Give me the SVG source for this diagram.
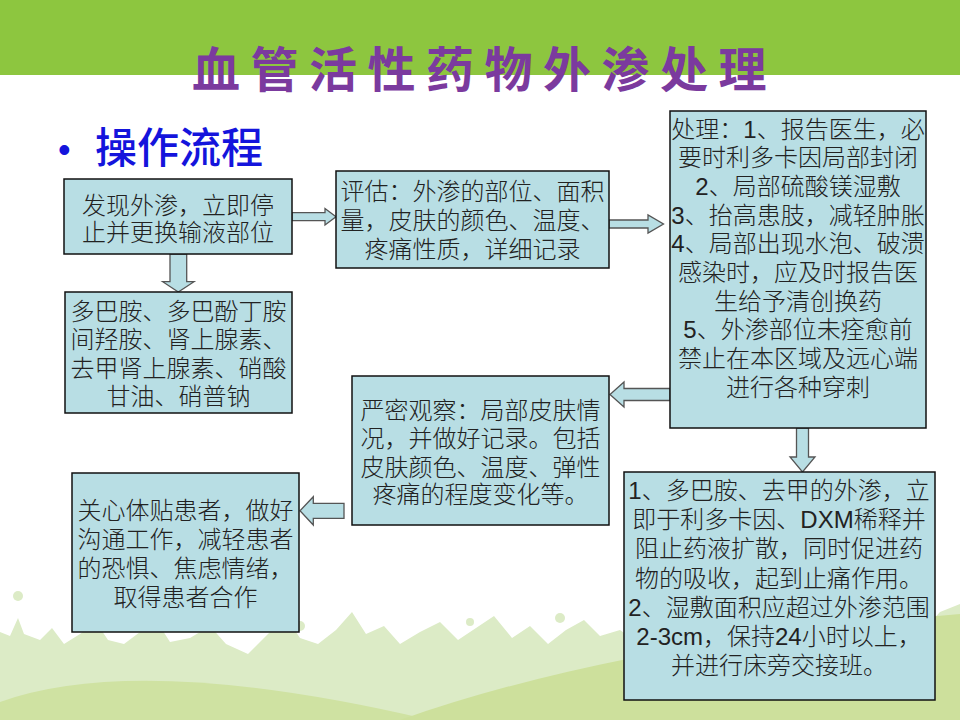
<svg xmlns="http://www.w3.org/2000/svg" width="960" height="720" viewBox="0 0 960 720">
<style>
.box{fill:#B8DEE4;stroke:#111;stroke-width:1.5}
.t{font-family:"Liberation Sans","Noto Sans CJK SC",sans-serif;font-size:24px;font-weight:300;fill:#222;text-anchor:middle}
.arr{fill:#B8DEE4;stroke:#555;stroke-width:1.3;stroke-linejoin:miter}
.deco{fill:#DCEBC6}
</style>
<g id="background">
<rect x="0" y="0" width="960" height="720" fill="#FFFFFF"/>
<rect x="0" y="0" width="960" height="75" fill="#8DC63F"/>
<path d="M0,655 L0,632 L10,636 L18,618 L24,634 L40,640 L52,628 L64,644 L80,634 L96,622 L108,640 L124,644 L140,632 L156,620 L170,642 L190,638 L210,626 L226,644 L248,654 L270,632 L288,620 L300,638 L318,644 L336,630 L352,612 L366,634 L384,626 L400,644 L420,632 L440,622 L458,640 L476,628 L494,616 L512,638 L530,626 L548,644 L566,630 L584,620 L600,636 L620,630 L640,644 L660,622 L680,636 L700,630 L720,644 L740,624 L760,638 L780,620 L800,634 L820,628 L840,644 L860,624 L880,636 L900,616 L920,634 L940,612 L960,604 L960,720 L0,720 Z" class="deco"/>
<path d="M0,702 Q140,652 430,720 L0,720 Z" fill="#CFE2A2"/>
<path d="M400,720 Q620,642 960,614 L960,720 Z" fill="#CDE09C"/>
<circle cx="18" cy="596" r="5" class="deco"/>
<circle cx="300" cy="626" r="5" class="deco"/>
<circle cx="470" cy="622" r="4" class="deco"/>
<circle cx="560" cy="618" r="5" class="deco"/>
<circle cx="908" cy="592" r="5" class="deco"/>
</g>
<g id="title">
<text x="192" y="87" font-family="'Noto Sans CJK SC',sans-serif" font-size="48" font-weight="700" fill="#7B3A9E" letter-spacing="10.5">血管活性药物外渗处理</text>
</g>
<g id="subtitle">
<text x="58" y="162" font-family="'Liberation Sans',sans-serif" font-size="36" fill="#1414DC">•</text>
<text x="95" y="163" font-family="'Noto Sans CJK SC',sans-serif" font-size="42" font-weight="500" fill="#1414DC">操作流程</text>
</g>
<g id="connectors">
<polygon class="arr" points="292,212.7 325,212.7 325,208.5 336,216.7 325,225 325,220.7 292,220.7"/>
<polygon class="arr" points="170,254 186.7,254 186.7,281.7 194,281.7 178.3,292 162.7,281.7 170,281.7"/>
<polygon class="arr" points="609,220 648,220 648,215 663.5,224 648,233 648,228 609,228"/>
<polygon class="arr" points="670,388.5 624,388.5 624,382 610,394.5 624,407 624,400.5 670,400.5"/>
<polygon class="arr" points="344,503.3 313.3,503.3 313.3,496.7 300,510.8 313.3,525 313.3,518.3 344,518.3"/>
<polygon class="arr" points="796.5,428 808.5,428 808.5,457 815,457 802.5,472 790,457 796.5,457"/>
</g>
<g id="node-discover">
<rect class="box" x="64" y="179" width="228" height="75"/>
<text class="t" x="178" y="214">发现外渗，立即停</text>
<text class="t" x="178" y="241">止并更换输液部位</text>
</g>
<g id="node-assess">
<rect class="box" x="336" y="171" width="273" height="97"/>
<text class="t" x="472.5" y="200">评估：外渗的部位、面积</text>
<text class="t" x="472.5" y="229">量，皮肤的颜色、温度、</text>
<text class="t" x="472.5" y="258">疼痛性质，详细记录</text>
</g>
<g id="node-drugs">
<rect class="box" x="65" y="292" width="227" height="121"/>
<text class="t" x="178.5" y="320">多巴胺、多巴酚丁胺</text>
<text class="t" x="178.5" y="348">间羟胺、肾上腺素、</text>
<text class="t" x="178.5" y="377">去甲肾上腺素、硝酸</text>
<text class="t" x="178.5" y="405">甘油、硝普钠</text>
</g>
<g id="node-treat">
<rect class="box" x="670" y="111" width="256" height="317"/>
<text class="t" x="798" y="137.5">处理：1、报告医生，必</text>
<text class="t" x="798" y="166.2">要时利多卡因局部封闭</text>
<text class="t" x="798" y="194.9">2、局部硫酸镁湿敷</text>
<text class="t" x="798" y="223.6">3、抬高患肢，减轻肿胀</text>
<text class="t" x="798" y="252.3">4、局部出现水泡、破溃</text>
<text class="t" x="798" y="281">感染时，应及时报告医</text>
<text class="t" x="798" y="309.7">生给予清创换药</text>
<text class="t" x="798" y="338.4">5、外渗部位未痊愈前</text>
<text class="t" x="798" y="367.1">禁止在本区域及远心端</text>
<text class="t" x="798" y="395.8">进行各种穿刺</text>
</g>
<g id="node-observe">
<rect class="box" x="352" y="376" width="257" height="149"/>
<text class="t" x="480.5" y="419">严密观察：局部皮肤情</text>
<text class="t" x="480.5" y="447">况，并做好记录。包括</text>
<text class="t" x="480.5" y="476">皮肤颜色、温度、弹性</text>
<text class="t" x="480.5" y="503">疼痛的程度变化等。</text>
</g>
<g id="node-care">
<rect class="box" x="72" y="473" width="227" height="159"/>
<text class="t" x="185.5" y="519">关心体贴患者，做好</text>
<text class="t" x="185.5" y="548">沟通工作，减轻患者</text>
<text class="t" x="185.5" y="577">的恐惧、焦虑情绪，</text>
<text class="t" x="185.5" y="606">取得患者合作</text>
</g>
<g id="node-notes">
<rect class="box" x="624" y="472" width="311" height="228"/>
<text class="t" x="779" y="499">1、多巴胺、去甲的外渗，立</text>
<text class="t" x="779" y="528.2">即于利多卡因、DXM稀释并</text>
<text class="t" x="779" y="557.4">阻止药液扩散，同时促进药</text>
<text class="t" x="779" y="586.6">物的吸收，起到止痛作用。</text>
<text class="t" x="779" y="615.8">2、湿敷面积应超过外渗范围</text>
<text class="t" x="779" y="645">2-3cm，保持24小时以上，</text>
<text class="t" x="779" y="674.2">并进行床旁交接班。</text>
</g>
</svg>
